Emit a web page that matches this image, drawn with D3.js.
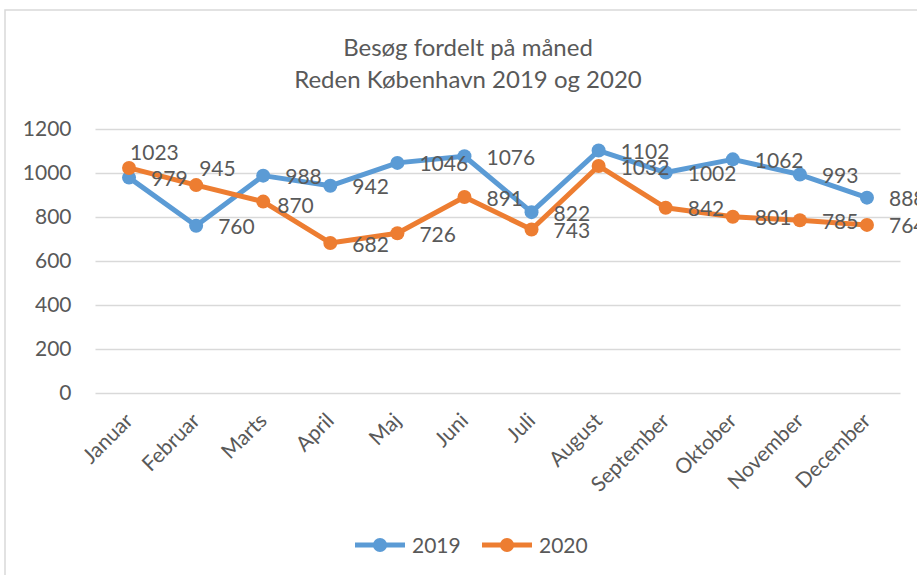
<!DOCTYPE html>
<html>
<head>
<meta charset="utf-8">
<script src="https://cdn.jsdelivr.net/npm/d3@7"></script>
<style>
  body { margin: 0; background: #fff; }
  text { font-family: Lato, "Open Sans", sans-serif; fill: #595959; }
</style>
</head>
<body>
<div id="chart"></div>
<script>
// data
const months = ['Januar', 'Februar', 'Marts', 'April', 'Maj', 'Juni', 'Juli', 'August', 'September', 'Oktober', 'November', 'December']
const visits2019 = [979, 760, 988, 942, 1046, 1076, 822, 1102, 1002, 1062, 993, 888]
const visits2020 = [1023, 945, 870, 682, 726, 891, 743, 1032, 842, 801, 785, 764]
const seriesNames = ['2019', '2020']
const yTicks = [0, 200, 400, 600, 800, 1000, 1200]
const titleLines = ['Besøg fordelt på måned', 'Reden København 2019 og 2020']

const width = 917
const height = 575
const colors = ['#5B9BD5', '#ED7D31']

const svg = d3.select('#chart')
  .append('svg')
  .attr('width', width)
  .attr('height', height)

// chart frame
svg.append('rect')
  .attr('x', 5).attr('y', 10)
  .attr('width', 960).attr('height', 620)
  .attr('fill', 'none')
  .attr('stroke', '#D9D9D9')
  .attr('stroke-width', 1.5)

// titel
svg.selectAll('.title')
  .data(titleLines)
  .enter()
  .append('text')
  .attr('class', 'title')
  .attr('x', 468)
  .attr('y', function (d, i) { return 48 + i * 32 })
  .attr('dy', '0.35em')
  .attr('text-anchor', 'middle')
  .attr('font-size', '24px')
  .text(function (d) { return d })

const x = d3.scaleBand()
  .domain(months)
  .range([95.5, 900.5])
const y = d3.scaleLinear()
  .domain([0, 1200])
  .range([393, 129])

const cx = function (i) { return x(months[i]) + x.bandwidth() / 2 }

// y akse + gitter
const yAxis = svg.append('g')
  .attr('transform', 'translate(95.5,0)')
  .call(d3.axisLeft(y).tickValues(yTicks).tickFormat(d3.format('d')).tickSize(-805).tickPadding(24))
yAxis.select('.domain').remove()
yAxis.selectAll('.tick line').attr('stroke', '#D9D9D9').attr('stroke-width', 1.5)
yAxis.selectAll('.tick text')
  .attr('font-size', '21px')
  .attr('font-family', 'Lato, sans-serif')
  .attr('fill', '#595959')

// x akse labels (roteret)
const xAxis = svg.append('g')
  .attr('transform', 'translate(0,' + y(0) + ')')
  .call(d3.axisBottom(x).tickSize(0).tickPadding(0))
xAxis.select('.domain').remove()
xAxis.selectAll('.tick text')
  .attr('font-size', '21px')
  .attr('font-family', 'Lato, sans-serif')
  .attr('fill', '#595959')
  .attr('text-anchor', 'end')
  .attr('dy', 0)
  .attr('transform', 'translate(5,29) rotate(-45)')

// serier
const allSeries = [visits2019, visits2020]
const line = d3.line()
  .x(function (d, i) { return cx(i) })
  .y(function (d) { return y(d) })

// manuelt flyttede labels (serie-index, punkt-index) -> [dx, dy]
const labelNudge = { '1-0': [1, -16], '1-1': [3, -17], '1-2': [14, 4] }

allSeries.forEach(function (vals, s) {
  const g = svg.append('g')
  g.append('path')
    .datum(vals)
    .attr('d', line)
    .attr('fill', 'none')
    .attr('stroke', colors[s])
    .attr('stroke-width', 5)
    .attr('stroke-linejoin', 'round')
  g.selectAll('circle')
    .data(vals)
    .enter()
    .append('circle')
    .attr('cx', function (d, i) { return cx(i) })
    .attr('cy', function (d) { return y(d) })
    .attr('r', 7)
    .attr('fill', colors[s])
})

// data labels ovenpå linjerne
allSeries.forEach(function (vals, s) {
  svg.append('g')
    .selectAll('text')
    .data(vals)
    .enter()
    .append('text')
    .attr('x', function (d, i) {
      const n = labelNudge[s + '-' + i]
      return cx(i) + (n ? n[0] : 22)
    })
    .attr('y', function (d, i) {
      const n = labelNudge[s + '-' + i]
      return y(d) + (n ? n[1] : 1)
    })
    .attr('dy', '0.36em')
    .attr('font-size', '21px')
    .text(function (d) { return d })
})

// legend
const legend = svg.append('g')
  .selectAll('g')
  .data(seriesNames)
  .enter()
  .append('g')
  .attr('transform', function (d, i) { return 'translate(' + (355 + i * 127) + ',545)' })
legend.append('line')
  .attr('x1', 0).attr('x2', 50)
  .attr('stroke', function (d, i) { return colors[i] })
  .attr('stroke-width', 5)
legend.append('circle')
  .attr('cx', 25)
  .attr('r', 7)
  .attr('fill', function (d, i) { return colors[i] })
legend.append('text')
  .attr('x', 57)
  .attr('dy', '0.36em')
  .attr('font-size', '21px')
  .text(function (d) { return d })
</script>
</body>
</html>
